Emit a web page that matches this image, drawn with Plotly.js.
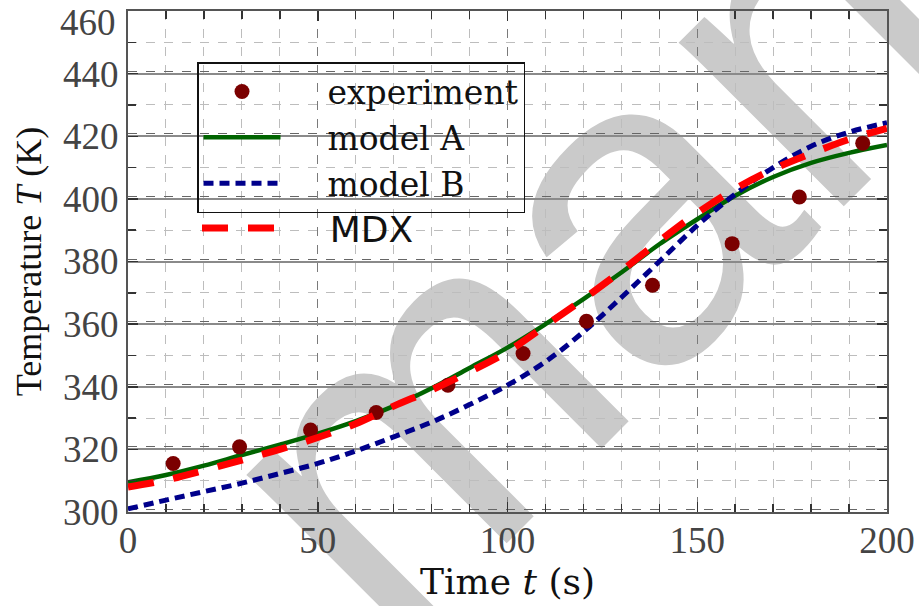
<!DOCTYPE html>
<html>
<head>
<meta charset="utf-8">
<script src="https://cdn.plot.ly/plotly-3.0.1.min.js"></script>
<style>html,body{margin:0;padding:0;background:#fff;}#chart{width:919px;height:606px;}</style>
</head>
<body>
<div id="chart"></div>
<script>
// ---- data ----
const expTime = [11.9, 29.4, 48.1, 65.4, 84.3, 104.1, 120.8, 138.2, 159.2, 176.9, 193.6];
const expTemp = [315.5, 320.8, 326.2, 331.8, 340.5, 350.6, 360.9, 372.4, 385.7, 400.6, 417.8];

const modelTime = [0, 10, 20, 30, 40, 50, 60, 70, 80, 90, 100, 110, 120, 130, 140, 150, 160, 170, 180, 190, 200];
const modelA = [309.5, 311.8, 314.8, 318.2, 321.5, 325.0, 329.0, 333.8, 339.5, 346.0, 352.5, 360.0, 368.0, 376.5, 385.5, 393.5, 401.0, 407.0, 411.5, 414.7, 417.2];
const modelB = [301.0, 303.8, 306.5, 309.2, 312.3, 315.5, 319.5, 324.0, 328.7, 334.3, 340.5, 348.0, 357.5, 368.5, 380.0, 391.5, 401.5, 410.0, 416.8, 421.3, 424.3];
const mdx    = [308.0, 310.2, 313.3, 316.6, 320.0, 323.8, 328.2, 333.8, 339.0, 344.8, 351.2, 359.5, 368.0, 377.0, 386.5, 395.5, 403.2, 409.5, 414.5, 419.0, 422.5];

const seriesNames = ['experiment', 'model A', 'model B', 'MDX'];
const yTickVals = [300, 320, 340, 360, 380, 400, 420, 440];
const yTopLabel = '460';
const xTitle = 'Time <i>t</i> (s)';
const yTitle = 'Temperature <i>T</i> (K)';
const watermarkText = 'manual';

// ---- figure geometry ----
const W = 919, H = 606;
const M = {l: 128, r: 32, t: 11, b: 94};
const pw = W - M.l - M.r, ph = H - M.t - M.b;

const svg = "<svg xmlns='http://www.w3.org/2000/svg' width='" + W + "' height='" + H + "'>" +
  "<text x='390' y='660' transform='rotate(-45 390 660)' font-family='Liberation Sans, Arial, sans-serif' font-size='440' fill='#cacaca'>" +
  watermarkText + "</text></svg>";

const pad = '\u00a0\u00a0\u00a0\u00a0';

const traces = [
  {x: modelTime, y: modelA, type: 'scatter', mode: 'lines', name: pad + seriesNames[1], legendrank: 2,
   line: {color: '#006400', width: 4.5, shape: 'spline'}},
  {x: modelTime, y: modelB, type: 'scatter', mode: 'lines', name: pad + seriesNames[2], legendrank: 3,
   line: {color: '#00008b', width: 5, dash: '10px,6px', shape: 'spline'}},
  {x: expTime, y: expTemp, type: 'scatter', mode: 'markers', name: pad + seriesNames[0], legendrank: 1,
   marker: {color: '#7b0000', size: 15}},
  {x: modelTime, y: mdx, type: 'scatter', mode: 'lines', name: pad + seriesNames[3], legend: 'legend2',
   line: {color: '#ff0000', width: 7, dash: '26px,20px', shape: 'spline'}},
  {x: [], y: [], yaxis: 'y2', type: 'scatter', mode: 'lines', showlegend: false, hoverinfo: 'skip'}
];

const serif = 'Liberation Serif, Times New Roman, serif';
const tickFont = {family: serif, size: 37, color: '#444'};
const layout = {
  width: W, height: H,
  margin: M,
  paper_bgcolor: '#ffffff',
  plot_bgcolor: 'rgba(0,0,0,0)',
  showlegend: true,
  images: [{
    source: 'data:image/svg+xml;charset=utf-8,' + encodeURIComponent(svg),
    xref: 'paper', yref: 'paper',
    x: -M.l / pw, y: 1 + M.t / ph,
    sizex: W / pw, sizey: H / ph,
    xanchor: 'left', yanchor: 'top', sizing: 'stretch', layer: 'below'
  }],
  annotations: [{
    text: yTopLabel, xref: 'paper', yref: 'paper',
    x: -10 / pw, y: (H - M.b - 23) / ph, xanchor: 'right', yanchor: 'middle',
    showarrow: false, font: tickFont
  }],
  xaxis: {
    range: [0, 200], tick0: 0, dtick: 50,
    showgrid: true, gridcolor: '#7a7a7a', griddash: 'dash', gridwidth: 1,
    zeroline: false, showline: true, linecolor: '#555', linewidth: 2, mirror: 'ticks',
    ticks: 'inside', ticklen: 10, tickwidth: 1.5, tickcolor: '#333',
    minor: {dtick: 10, ticks: 'inside', ticklen: 8, tickwidth: 1.5, tickcolor: '#333',
            showgrid: true, gridcolor: '#bdbdbd', griddash: 'dash', gridwidth: 1},
    tickfont: tickFont,
    ticklabelstandoff: -5, ticklabeloverflow: 'allow',
    title: {text: xTitle, font: {family: 'DejaVu Serif, serif', size: 36, color: '#111'}, standoff: 0}
  },
  yaxis: {
    range: [300, 460], tickmode: 'array', tickvals: yTickVals,
    showgrid: true, gridcolor: '#8a8a8a', gridwidth: 2,
    zeroline: false, showline: true, linecolor: '#555', linewidth: 2, mirror: 'ticks',
    ticks: 'inside', ticklen: 10, tickwidth: 1.5, tickcolor: '#333',
    minor: {tick0: 300, dtick: 10, ticks: 'inside', ticklen: 8, tickwidth: 1.5, tickcolor: '#333',
            showgrid: true, gridcolor: '#bdbdbd', griddash: 'dash', gridwidth: 1},
    tickfont: tickFont,
    title: {text: yTitle, font: {family: serif, size: 36, color: '#111'}, standoff: 10}
  },
  yaxis2: {
    overlaying: 'y', range: [299.2, 459.2], tick0: 300, dtick: 20,
    showgrid: true, gridcolor: '#666', griddash: 'dash', gridwidth: 1,
    showticklabels: false, ticks: '', showline: false, zeroline: false
  },
  legend: {
    x: (197 - M.l) / pw, y: (H - M.b - 62) / ph, xanchor: 'left', yanchor: 'top',
    bgcolor: 'rgba(0,0,0,0)', bordercolor: '#111', borderwidth: 1.5,
    font: {family: 'DejaVu Serif, serif', size: 33, color: '#111'},
    itemwidth: 77, tracegroupgap: 0
  },
  legend2: {
    x: (197 - M.l) / pw, y: (H - M.b - 198) / ph, xanchor: 'left', yanchor: 'top',
    bgcolor: 'rgba(0,0,0,0)', borderwidth: 0,
    font: {family: 'DejaVu Sans, sans-serif', size: 36, color: '#111'},
    itemwidth: 77
  }
};

Plotly.newPlot('chart', traces, layout, {staticPlot: true, displayModeBar: false});
</script>
</body>
</html>
